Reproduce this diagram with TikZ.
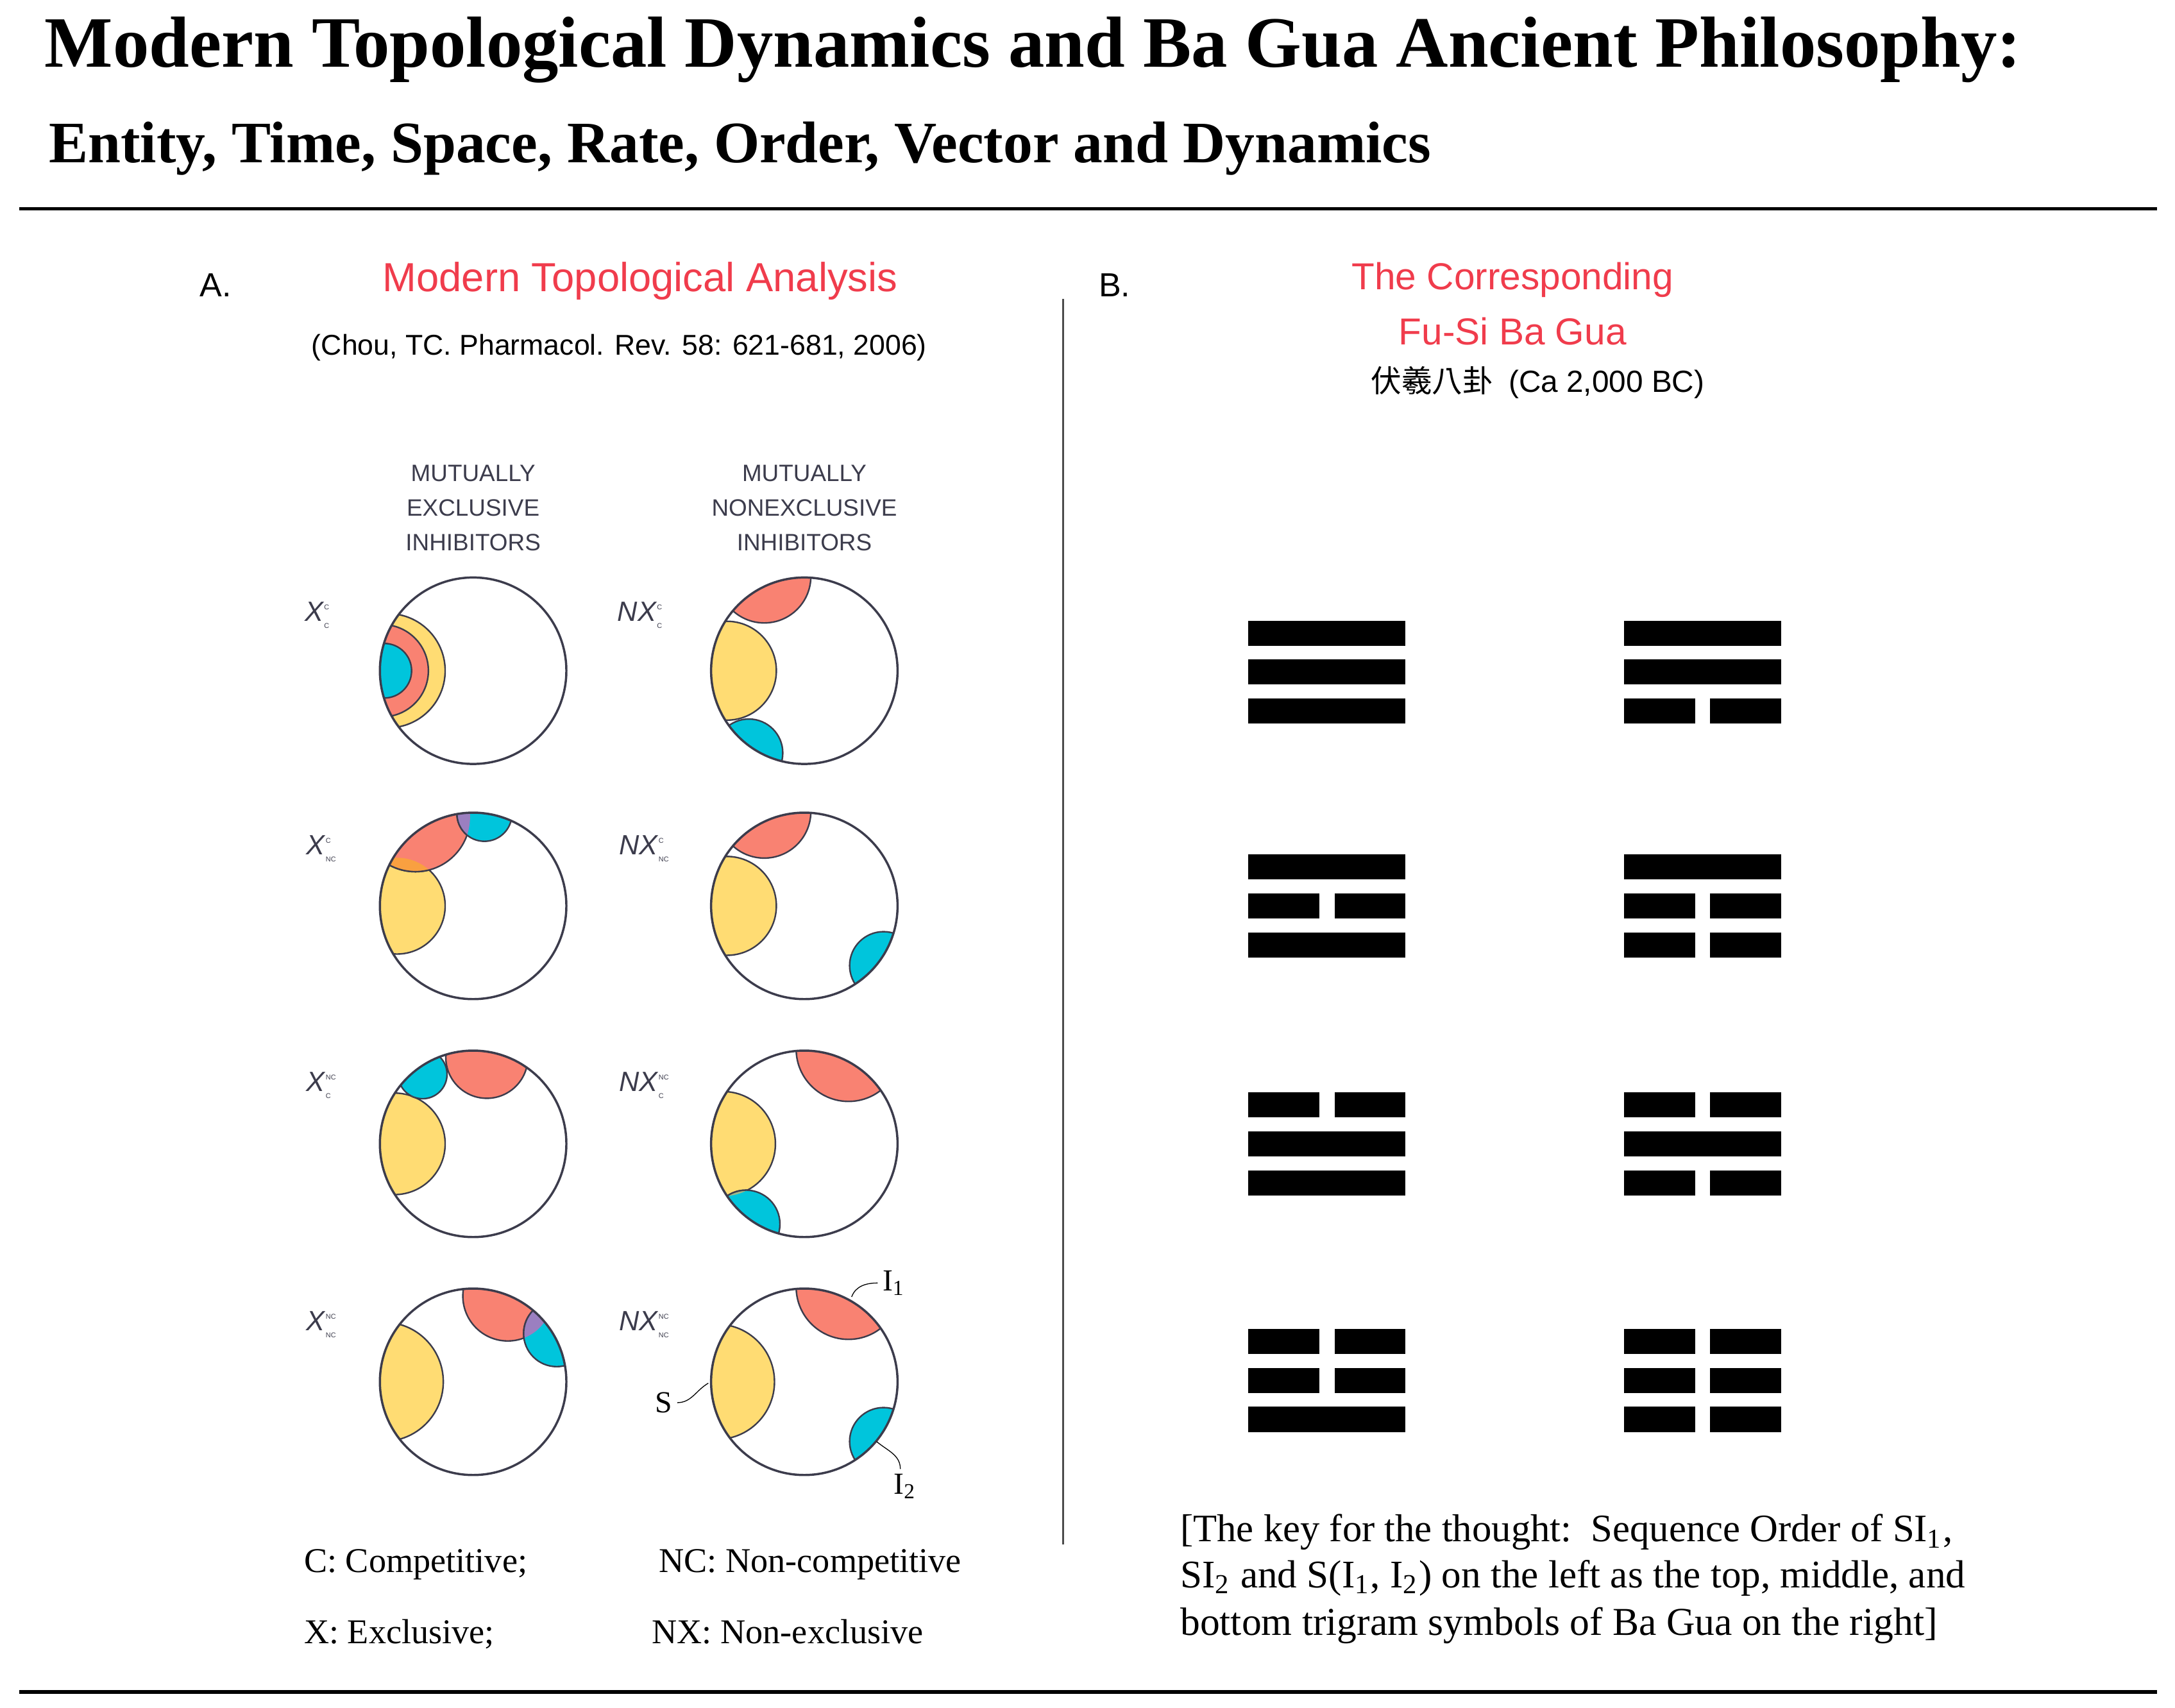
\documentclass[tikz,border=0pt]{standalone}
\usepackage{amsmath}
\usepackage{fontspec}
\setmainfont{Liberation Serif}
\setsansfont{Liberation Sans}
\newfontfamily\cjk{Noto Sans CJK TC}
\usetikzlibrary{positioning}

\definecolor{sYel}{HTML}{FFDC73}
\definecolor{sRed}{HTML}{F98272}
\definecolor{sCya}{HTML}{00C5DC}
\definecolor{sOra}{HTML}{F9A040}
\definecolor{sGre}{HTML}{A0B888}
\definecolor{sPur}{HTML}{9B7FC0}
\definecolor{titred}{HTML}{F03C4C}
\definecolor{inkgray}{HTML}{3C3C4C}

\def\Rc{67}
\newcommand\fitw[2]{\resizebox{#1pt}{!}{#2}}
% lens of the site circle: direction, half angle, depth
\newcommand\blob[4]{%
  \pgfmathsetmacro\bd{(1-#3*#3)/(2*(cos(#2)-#3))}%
  \pgfmathsetmacro\br{(\bd-#3)*\Rc}%
  \filldraw[#4,blobline] (#1:\bd) circle[radius=\br pt];}
\newcommand\lap[7]{%
  \pgfmathsetmacro\bdA{(1-#3*#3)/(2*(cos(#2)-#3))}%
  \pgfmathsetmacro\brA{(\bdA-#3)*\Rc}%
  \pgfmathsetmacro\bdB{(1-#6*#6)/(2*(cos(#5)-#6))}%
  \pgfmathsetmacro\brB{(\bdB-#6)*\Rc}%
  \begin{scope}
    \clip (#1:\bdA) circle[radius=\brA pt];
    \filldraw[#7,blobline] (#4:\bdB) circle[radius=\brB pt];
  \end{scope}}

\tikzset{
  blobline/.style={draw=inkgray, line width=1.1pt},
  site/.style={draw=inkgray, line width=1.6pt},
  bar/.style={fill=black},
  head/.style={font=\sffamily\fontsize{17}{25}\selectfont, text=inkgray, align=center},
  rowlab/.style={font=\sffamily\fontsize{20}{20}\selectfont, text=inkgray},
  legend/.style={font=\fontsize{25}{25}\selectfont, anchor=base west},
  keyline/.style={anchor=base west, inner sep=0pt},
}

\begin{document}
\begin{tikzpicture}[x=1pt, y=-1pt]
  \useasboundingbox (0,0) rectangle (1563,1227);

  % titles
  \node[anchor=base west, inner sep=0pt] (tit1) at (32,48)
    {\fitw{1420}{\bfseries Modern Topological Dynamics and Ba Gua Ancient Philosophy:}};
  \node[anchor=base west, inner sep=0pt] (tit2) at (35,117)
    {\fitw{993}{\bfseries Entity, Time, Space, Rate, Order, Vector and Dynamics}};
  \draw[line width=2.6pt] (14,150) -- (1550,150);
  \draw[line width=2.6pt] (14,1216) -- (1550,1216);
  \draw[line width=1.3pt, black!70] (764,215) -- (764,1110);

  % panel A
  \node[font=\sffamily\fontsize{24}{24}\selectfont] (lblA) at (155,205) {A.};
  \node[text=titred] (titA) at (460,202) {\fitw{370}{\sffamily Modern Topological Analysis}};
  \node (cite) at (445,250) {\fitw{442}{\sffamily (Chou, TC. Pharmacol. Rev. 58: 621-681, 2006)}};
  \node[head] (hX) at (340,365) {MUTUALLY\\EXCLUSIVE\\INHIBITORS};
  \node[head] (hNX) at (578,365) {MUTUALLY\\NONEXCLUSIVE\\INHIBITORS};

  \node[rowlab] (l1) at (228,442) {$\text{\textit{X}}^{\text{\tiny C}}_{\text{\tiny C}}$};
  \node[rowlab] (l2) at (231,610) {$\text{\textit{X}}^{\text{\tiny C}}_{\text{\tiny NC}}$};
  \node[rowlab] (l3) at (231,780) {$\text{\textit{X}}^{\text{\tiny NC}}_{\text{\tiny C}}$};
  \node[rowlab] (l4) at (231,952) {$\text{\textit{X}}^{\text{\tiny NC}}_{\text{\tiny NC}}$};
  \node[rowlab] (m1) at (460,442) {$\text{\textit{NX}}^{\text{\tiny C}}_{\text{\tiny C}}$};
  \node[rowlab] (m2) at (463,610) {$\text{\textit{NX}}^{\text{\tiny C}}_{\text{\tiny NC}}$};
  \node[rowlab] (m3) at (463,780) {$\text{\textit{NX}}^{\text{\tiny NC}}_{\text{\tiny C}}$};
  \node[rowlab] (m4) at (463,952) {$\text{\textit{NX}}^{\text{\tiny NC}}_{\text{\tiny NC}}$};

  % X C C
  \begin{scope}[shift={(340,482)}, x=67pt, y=67pt]
    \begin{scope}
      \clip (0,0) circle[radius=67pt];
      \blob{180}{37}{0.30}{sYel}
      \blob{180}{29}{0.48}{sRed}
      \blob{180}{17}{0.66}{sCya}
    \end{scope}
    \draw[site] (0,0) circle[radius=67pt];
  \end{scope}
  % X C NC
  \begin{scope}[shift={(340,651)}, x=67pt, y=67pt]
    \begin{scope}
      \clip (0,0) circle[radius=67pt];
      \blob{180}{31}{0.30}{sYel}
      \blob{123}{31}{0.55}{sRed}
      \blob{83}{17}{0.70}{sCya}
      \lap{180}{31}{0.30}{123}{31}{0.55}{sOra}
      \lap{123}{31}{0.55}{83}{17}{0.70}{sPur}
    \end{scope}
    \draw[site] (0,0) circle[radius=67pt];
  \end{scope}
  % X NC C
  \begin{scope}[shift={(340,822)}, x=67pt, y=67pt]
    \begin{scope}
      \clip (0,0) circle[radius=67pt];
      \blob{180}{33}{0.30}{sYel}
      \blob{81}{26}{0.50}{sRed}
      \blob{126}{15}{0.66}{sCya}
      \lap{180}{33}{0.30}{126}{15}{0.66}{sGre}
      \lap{81}{26}{0.50}{126}{15}{0.66}{sPur}
    \end{scope}
    \draw[site] (0,0) circle[radius=67pt];
  \end{scope}
  % X NC NC
  \begin{scope}[shift={(340,993)}, x=67pt, y=67pt]
    \begin{scope}
      \clip (0,0) circle[radius=67pt];
      \blob{180}{38}{0.32}{sYel}
      \blob{68}{28}{0.51}{sRed}
      \blob{30}{20}{0.68}{sCya}
      \lap{68}{28}{0.51}{30}{20}{0.68}{sPur}
    \end{scope}
    \draw[site] (0,0) circle[radius=67pt];
  \end{scope}
  % NX C C
  \begin{scope}[shift={(578,482)}, x=67pt, y=67pt]
    \begin{scope}
      \clip (0,0) circle[radius=67pt];
      \blob{180}{32}{0.30}{sYel}
      \blob{113}{27}{0.60}{sRed}
      \blob{236}{20}{0.70}{sCya}
      \lap{180}{32}{0.30}{113}{27}{0.60}{sOra}
      \lap{180}{32}{0.30}{236}{20}{0.70}{sGre}
    \end{scope}
    \draw[site] (0,0) circle[radius=67pt];
  \end{scope}
  % NX C NC
  \begin{scope}[shift={(578,651)}, x=67pt, y=67pt]
    \begin{scope}
      \clip (0,0) circle[radius=67pt];
      \blob{180}{32}{0.30}{sYel}
      \blob{113}{27}{0.60}{sRed}
      \blob{-37}{20}{0.70}{sCya}
      \lap{180}{32}{0.30}{113}{27}{0.60}{sOra}
    \end{scope}
    \draw[site] (0,0) circle[radius=67pt];
  \end{scope}
  % NX NC C
  \begin{scope}[shift={(578,822)}, x=67pt, y=67pt]
    \begin{scope}
      \clip (0,0) circle[radius=67pt];
      \blob{180}{34}{0.31}{sYel}
      \blob{65}{30}{0.56}{sRed}
      \blob{234}{20}{0.70}{sCya}
      \lap{180}{34}{0.31}{234}{20}{0.70}{sGre}
    \end{scope}
    \draw[site] (0,0) circle[radius=67pt];
  \end{scope}
  % NX NC NC
  \begin{scope}[shift={(578,993)}, x=67pt, y=67pt]
    \begin{scope}
      \clip (0,0) circle[radius=67pt];
      \blob{180}{37}{0.32}{sYel}
      \blob{65}{30}{0.56}{sRed}
      \blob{-37}{20}{0.70}{sCya}
    \end{scope}
    \draw[site] (0,0) circle[radius=67pt];
  \end{scope}

  % site labels
  \node[font=\fontsize{22}{22}\selectfont] (iA) at (642,922) {I\textsubscript{1}};
  \node[font=\fontsize{22}{22}\selectfont] (sS) at (477,1008) {S};
  \node[font=\fontsize{22}{22}\selectfont] (iB) at (650,1068) {I\textsubscript{2}};
  \coordinate (iAend) at (612,932);
  \coordinate (sSend) at (509,994);
  \coordinate (iBend) at (630,1036);
  \draw[semithick] (iA.west) to[out=180, in=70] (iAend);
  \draw[semithick] (sS.east) to[out=0, in=210] (sSend);
  \draw[semithick] (iB.north) ++(-3,0) to[out=90, in=-40] (iBend);

  \node[legend] (lC) at (215,1130) {C: Competitive;};
  \node[legend] (lNC) at (470,1130) {NC: Non-competitive};
  \node[legend] (lX) at (215,1181) {X: Exclusive;};
  \node[legend] (lNX) at (465,1181) {NX: Non-exclusive};

  % panel B
  \node[font=\sffamily\fontsize{24}{24}\selectfont] (lblB) at (801,205) {B.};
  \node[text=titred, font=\sffamily\fontsize{27}{27}\selectfont] (titB) at (1087,201) {The Corresponding};
  \node[text=titred, font=\sffamily\fontsize{27}{27}\selectfont] (titB2) at (1087,238) {Fu-Si Ba Gua};
  \node[font=\fontsize{22}{22}\selectfont] (era) at (1105,275) {{\cjk 伏羲八卦}\ \ \textsf{(Ca 2,000 BC)}};

  % trigrams: 1 = solid, 0 = broken
  \foreach \gx/\gy/\ta/\tb/\tc in {897/455/1/1/1, 1167/455/1/1/0,
      897/623/1/0/1, 1167/623/1/0/0, 897/794/0/1/1, 1167/794/0/1/0,
      897/964/0/0/1, 1167/964/0/0/0}{
    \foreach \k/\t in {0/\ta, 1/\tb, 2/\tc}{
      \ifnum\t=1
        \fill[bar] (\gx,\gy+28*\k-9) rectangle ++(113,18);
      \else
        \fill[bar] (\gx,\gy+28*\k-9) rectangle ++(51,18);
        \fill[bar] (\gx+62,\gy+28*\k-9) rectangle ++(51,18);
      \fi
    }
  }

  \node[keyline] (key1) at (848,1108) {\fitw{555}{[The key for the thought:\ \ Sequence Order of SI\textsubscript{1},}};
  \node[keyline] (key2) at (848,1141) {\fitw{564}{SI\textsubscript{2} and S(I\textsubscript{1}, I\textsubscript{2}) on the left as the top, middle, and}};
  \node[keyline] (key3) at (848,1175) {\fitw{544}{bottom trigram symbols of Ba Gua on the right]}};
\end{tikzpicture}
\end{document}
